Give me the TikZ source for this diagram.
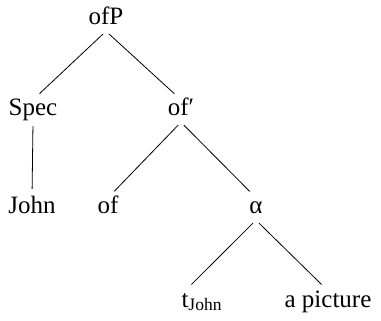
\documentclass[tikz,border=0pt]{standalone}
\usepackage{fontspec}
\setmainfont{Liberation Serif}
\usetikzlibrary{calc}
\tikzset{
	lbl/.style={anchor=base, inner sep=0pt, text height=16pt, text depth=6pt, font=\fontsize{25}{30}\selectfont},
	branch/.style={line width=0.8pt, shorten <=4pt, shorten >=9pt}
}

\begin{document}
\begin{tikzpicture}[x=1pt, y=-1pt]
		%%%%% START %%%%%
		\useasboundingbox (0, 0) rectangle (381, 321);
		
		\node[lbl] (ofP) at (106, 25) {ofP};
		
		\node[lbl] (spec) at (33, 116) {Spec};
		\node[lbl] (ofbar) at (181, 116) {of′};
		
		\node[lbl] (john) at (32, 214) {John};
		\node[lbl] (of) at (108, 214) {of};
		\node[lbl] (alpha) at (256, 214) {α};
		
		\node[lbl] (trace) at (185, 307) {t\rlap{\textsubscript{John}}};
		\node[lbl] (pict) at (328, 307) {a picture};
		
		\draw[branch] (ofP.south) -- (spec.north);
		\draw[branch] (ofP.south) -- (ofbar.north);
		\draw[branch] (spec.south) -- (john.north);
		\draw[branch] (ofbar.south) -- (of.north);
		\draw[branch] (ofbar.south) -- (alpha.north);
		\draw[branch] (alpha.south) -- (trace.north);
		\draw[branch] (alpha.south) -- (pict.north);
		
		%%%%% END %%%%%
	\end{tikzpicture}
\end{document}
